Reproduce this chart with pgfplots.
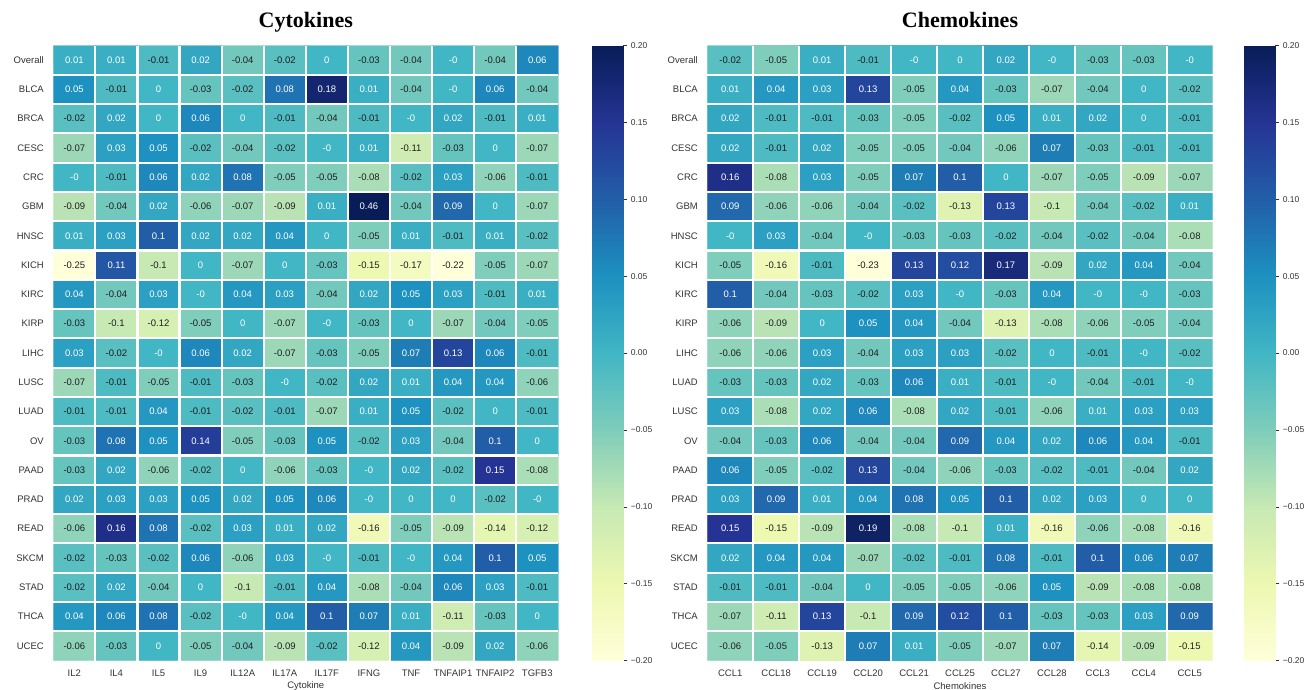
\documentclass[border=0pt]{standalone}
\usepackage{pgfplots}
\usepackage{pgfplotstable}
\pgfplotsset{compat=1.18}
\usepackage{fontspec}
\setmainfont{Liberation Sans}
\newfontfamily\titlefont{Liberation Serif}
\definecolor{txtdark}{HTML}{1E1E1E}
\definecolor{lblgray}{HTML}{333333}

% Cytokines: 21 rows x 12 columns, row by row
\pgfplotstableread[row sep=\\]{
v\\
0.01\\ 0.01\\ -0.01\\ 0.02\\ -0.04\\ -0.02\\ 0\\ -0.03\\ -0.04\\ -0\\ -0.04\\ 0.06\\
0.05\\ -0.01\\ 0\\ -0.03\\ -0.02\\ 0.08\\ 0.18\\ 0.01\\ -0.04\\ -0\\ 0.06\\ -0.04\\
-0.02\\ 0.02\\ 0\\ 0.06\\ 0\\ -0.01\\ -0.04\\ -0.01\\ -0\\ 0.02\\ -0.01\\ 0.01\\
-0.07\\ 0.03\\ 0.05\\ -0.02\\ -0.04\\ -0.02\\ -0\\ 0.01\\ -0.11\\ -0.03\\ 0\\ -0.07\\
-0\\ -0.01\\ 0.06\\ 0.02\\ 0.08\\ -0.05\\ -0.05\\ -0.08\\ -0.02\\ 0.03\\ -0.06\\ -0.01\\
-0.09\\ -0.04\\ 0.02\\ -0.06\\ -0.07\\ -0.09\\ 0.01\\ 0.46\\ -0.04\\ 0.09\\ 0\\ -0.07\\
0.01\\ 0.03\\ 0.1\\ 0.02\\ 0.02\\ 0.04\\ 0\\ -0.05\\ 0.01\\ -0.01\\ 0.01\\ -0.02\\
-0.25\\ 0.11\\ -0.1\\ 0\\ -0.07\\ 0\\ -0.03\\ -0.15\\ -0.17\\ -0.22\\ -0.05\\ -0.07\\
0.04\\ -0.04\\ 0.03\\ -0\\ 0.04\\ 0.03\\ -0.04\\ 0.02\\ 0.05\\ 0.03\\ -0.01\\ 0.01\\
-0.03\\ -0.1\\ -0.12\\ -0.05\\ 0\\ -0.07\\ -0\\ -0.03\\ 0\\ -0.07\\ -0.04\\ -0.05\\
0.03\\ -0.02\\ -0\\ 0.06\\ 0.02\\ -0.07\\ -0.03\\ -0.05\\ 0.07\\ 0.13\\ 0.06\\ -0.01\\
-0.07\\ -0.01\\ -0.05\\ -0.01\\ -0.03\\ -0\\ -0.02\\ 0.02\\ 0.01\\ 0.04\\ 0.04\\ -0.06\\
-0.01\\ -0.01\\ 0.04\\ -0.01\\ -0.02\\ -0.01\\ -0.07\\ 0.01\\ 0.05\\ -0.02\\ 0\\ -0.01\\
-0.03\\ 0.08\\ 0.05\\ 0.14\\ -0.05\\ -0.03\\ 0.05\\ -0.02\\ 0.03\\ -0.04\\ 0.1\\ 0\\
-0.03\\ 0.02\\ -0.06\\ -0.02\\ 0\\ -0.06\\ -0.03\\ -0\\ 0.02\\ -0.02\\ 0.15\\ -0.08\\
0.02\\ 0.03\\ 0.03\\ 0.05\\ 0.02\\ 0.05\\ 0.06\\ -0\\ 0\\ 0\\ -0.02\\ -0\\
-0.06\\ 0.16\\ 0.08\\ -0.02\\ 0.03\\ 0.01\\ 0.02\\ -0.16\\ -0.05\\ -0.09\\ -0.14\\ -0.12\\
-0.02\\ -0.03\\ -0.02\\ 0.06\\ -0.06\\ 0.03\\ -0\\ -0.01\\ -0\\ 0.04\\ 0.1\\ 0.05\\
-0.02\\ 0.02\\ -0.04\\ 0\\ -0.1\\ -0.01\\ 0.04\\ -0.08\\ -0.04\\ 0.06\\ 0.03\\ -0.01\\
0.04\\ 0.06\\ 0.08\\ -0.02\\ -0\\ 0.04\\ 0.1\\ 0.07\\ 0.01\\ -0.11\\ -0.03\\ 0\\
-0.06\\ -0.03\\ 0\\ -0.05\\ -0.04\\ -0.09\\ -0.02\\ -0.12\\ 0.04\\ -0.09\\ 0.02\\ -0.06\\
}\cyto

% Chemokines: 21 rows x 11 columns, row by row
\pgfplotstableread[row sep=\\]{
v\\
-0.02\\ -0.05\\ 0.01\\ -0.01\\ -0\\ 0\\ 0.02\\ -0\\ -0.03\\ -0.03\\ -0\\
0.01\\ 0.04\\ 0.03\\ 0.13\\ -0.05\\ 0.04\\ -0.03\\ -0.07\\ -0.04\\ 0\\ -0.02\\
0.02\\ -0.01\\ -0.01\\ -0.03\\ -0.05\\ -0.02\\ 0.05\\ 0.01\\ 0.02\\ 0\\ -0.01\\
0.02\\ -0.01\\ 0.02\\ -0.05\\ -0.05\\ -0.04\\ -0.06\\ 0.07\\ -0.03\\ -0.01\\ -0.01\\
0.16\\ -0.08\\ 0.03\\ -0.05\\ 0.07\\ 0.1\\ 0\\ -0.07\\ -0.05\\ -0.09\\ -0.07\\
0.09\\ -0.06\\ -0.06\\ -0.04\\ -0.02\\ -0.13\\ 0.13\\ -0.1\\ -0.04\\ -0.02\\ 0.01\\
-0\\ 0.03\\ -0.04\\ -0\\ -0.03\\ -0.03\\ -0.02\\ -0.04\\ -0.02\\ -0.04\\ -0.08\\
-0.05\\ -0.16\\ -0.01\\ -0.23\\ 0.13\\ 0.12\\ 0.17\\ -0.09\\ 0.02\\ 0.04\\ -0.04\\
0.1\\ -0.04\\ -0.03\\ -0.02\\ 0.03\\ -0\\ -0.03\\ 0.04\\ -0\\ -0\\ -0.03\\
-0.06\\ -0.09\\ 0\\ 0.05\\ 0.04\\ -0.04\\ -0.13\\ -0.08\\ -0.06\\ -0.05\\ -0.04\\
-0.06\\ -0.06\\ 0.03\\ -0.04\\ 0.03\\ 0.03\\ -0.02\\ 0\\ -0.01\\ -0\\ -0.02\\
-0.03\\ -0.03\\ 0.02\\ -0.03\\ 0.06\\ 0.01\\ -0.01\\ -0\\ -0.04\\ -0.01\\ -0\\
0.03\\ -0.08\\ 0.02\\ 0.06\\ -0.08\\ 0.02\\ -0.01\\ -0.06\\ 0.01\\ 0.03\\ 0.03\\
-0.04\\ -0.03\\ 0.06\\ -0.04\\ -0.04\\ 0.09\\ 0.04\\ 0.02\\ 0.06\\ 0.04\\ -0.01\\
0.06\\ -0.05\\ -0.02\\ 0.13\\ -0.04\\ -0.06\\ -0.03\\ -0.02\\ -0.01\\ -0.04\\ 0.02\\
0.03\\ 0.09\\ 0.01\\ 0.04\\ 0.08\\ 0.05\\ 0.1\\ 0.02\\ 0.03\\ 0\\ 0\\
0.15\\ -0.15\\ -0.09\\ 0.19\\ -0.08\\ -0.1\\ 0.01\\ -0.16\\ -0.06\\ -0.08\\ -0.16\\
0.02\\ 0.04\\ 0.04\\ -0.07\\ -0.02\\ -0.01\\ 0.08\\ -0.01\\ 0.1\\ 0.06\\ 0.07\\
-0.01\\ -0.01\\ -0.04\\ 0\\ -0.05\\ -0.05\\ -0.06\\ 0.05\\ -0.09\\ -0.08\\ -0.08\\
-0.07\\ -0.11\\ 0.13\\ -0.1\\ 0.09\\ 0.12\\ 0.1\\ -0.03\\ -0.03\\ 0.03\\ 0.09\\
-0.06\\ -0.05\\ -0.13\\ 0.07\\ 0.01\\ -0.05\\ -0.07\\ 0.07\\ -0.14\\ -0.09\\ -0.15\\
}\chemo

% integer cell positions from the row index (column count #1)
\newcommand\addpos[2]{%
  \pgfplotstablecreatecol[create col/assign/.code={%
    \edef\ry{\the\numexpr(2*\pgfplotstablerow-#1+1)/(2*#1)\relax}%
    \pgfkeyslet{/pgfplots/table/create col/next content}\ry}]{cy}{#2}%
  \pgfplotstablecreatecol[create col/assign/.code={%
    \edef\ry{\the\numexpr(2*\pgfplotstablerow-#1+1)/(2*#1)\relax}%
    \edef\rx{\the\numexpr\pgfplotstablerow-#1*\ry\relax}%
    \pgfkeyslet{/pgfplots/table/create col/next content}\rx}]{cx}{#2}%
}
\addpos{12}{\cyto}
\addpos{11}{\chemo}

% text colour: dark for labels "-0.xx", white otherwise
\def\lblcolor#1#2#3#4\relax{\ifx-#1\ifx.#3\color{txtdark}\else\color{white}\fi\else\color{white}\fi}
\newcommand\celllabel{\edef\lab{\pgfplotspointmeta}\expandafter\lblcolor\lab xxx\relax\lab}

\pgfplotsset{
  colormap={ylgnbu}{rgb255=(255,255,217) rgb255=(237,248,177) rgb255=(199,233,180)
    rgb255=(127,205,187) rgb255=(65,182,196) rgb255=(29,145,192) rgb255=(34,94,168)
    rgb255=(37,52,148) rgb255=(8,29,88)},
  hm/.style={
    scale only axis, height=615pt,
    anchor=south west,
    colormap name=ylgnbu,
    point meta min=-0.2, point meta max=0.2,
    ymin=-0.5, ymax=20.5, y dir=reverse,
    ytick={0,...,20},
    axis line style={draw=none},
    major tick length=0pt, minor tick length=0pt,
    minor ytick={0.5,1.5,...,19.5},
    xminorgrids, yminorgrids,
    minor grid style={white, line width=2.2pt},
    axis on top,
    tick label style={font=\fontsize{9.5}{11}\selectfont, text=lblgray},
    xticklabel style={yshift=-6pt},
    yticklabel style={xshift=-6pt},
    title style={font=\titlefont\bfseries\fontsize{22}{26}\selectfont,
      at={(axis description cs:0.5,1)}, anchor=base, yshift=12.5pt},
    xlabel style={font=\fontsize{9.5}{11}\selectfont, text=lblgray,
      at={(axis description cs:0.5,0)}, anchor=center, yshift=-25.5pt},
  },
  cbar/.style={
    scale only axis, anchor=south west, width=31.5pt, height=615pt,
    colormap name=ylgnbu,
    point meta min=-0.2, point meta max=0.2,
    xmin=0, xmax=1, ymin=-0.2, ymax=0.2, enlargelimits=false,
    axis line style={draw=none},
    xtick=\empty,
    ytick={-0.2,-0.15,-0.1,-0.05,0,0.05,0.1,0.15,0.2},
    yticklabels={−0.20,−0.15,−0.10,−0.05,0.00,0.05,0.10,0.15,0.20},
    yticklabel style={font=\fontsize{8.5}{10}\selectfont, text=lblgray},
    yticklabel pos=right, ytick pos=right,
    major tick length=4pt, tick align=outside,
    tick style={lblgray, line width=0.5pt},
  },
  lbl/.style={
    only marks, mark=none,
    point meta=explicit symbolic,
    nodes near coords={\celllabel},
    nodes near coords align=center,
    every node near coord/.append style={font=\fontsize{9.5}{11}\selectfont, inner sep=0pt, anchor=center},
  },
}

\begin{document}
\begin{tikzpicture}
\useasboundingbox (0,0) rectangle (1310pt,689pt);

\begin{axis}[hm,
  at={(53.3pt,28.5pt)}, width=505pt,
  xmin=-0.5, xmax=11.5,
  xtick={0,...,11},
  minor xtick={0.5,1.5,...,10.5},
  xticklabels={IL2,IL4,IL5,IL9,IL12A,IL17A,IL17F,IFNG,TNF,TNFAIP1,TNFAIP2,TGFB3},
  yticklabels={Overall,BLCA,BRCA,CESC,CRC,GBM,HNSC,KICH,KIRC,KIRP,LIHC,LUSC,LUAD,OV,PAAD,PRAD,READ,SKCM,STAD,THCA,UCEC},
  title={Cytokines}, xlabel={Cytokine},
]
\addplot[matrix plot*, mesh/cols=12, mesh/rows=21, point meta=explicit]
  table[x=cx, y=cy, meta=v] {\cyto};
\addplot[lbl]
  table[x=cx, y=cy, meta=v] {\cyto};
\end{axis}

\begin{axis}[cbar, at={(591.8pt,28.5pt)}]
\addplot[surf, shader=interp, mesh/rows=2, point meta=y]
  coordinates {(0,-0.2) (1,-0.2) (0,0.2) (1,0.2)};
\end{axis}

\begin{axis}[hm,
  at={(707.3pt,28.5pt)}, width=505.4pt,
  xmin=-0.5, xmax=10.5,
  xtick={0,...,10},
  minor xtick={0.5,1.5,...,9.5},
  xticklabels={CCL1,CCL18,CCL19,CCL20,CCL21,CCL25,CCL27,CCL28,CCL3,CCL4,CCL5},
  yticklabels={Overall,BLCA,BRCA,CESC,CRC,GBM,HNSC,KICH,KIRC,KIRP,LIHC,LUAD,LUSC,OV,PAAD,PRAD,READ,SKCM,STAD,THCA,UCEC},
  title={Chemokines}, xlabel={Chemokines},
]
\addplot[matrix plot*, mesh/cols=11, mesh/rows=21, point meta=explicit]
  table[x=cx, y=cy, meta=v] {\chemo};
\addplot[lbl]
  table[x=cx, y=cy, meta=v] {\chemo};
\end{axis}

\begin{axis}[cbar, at={(1243.8pt,28.5pt)}]
\addplot[surf, shader=interp, mesh/rows=2, point meta=y]
  coordinates {(0,-0.2) (1,-0.2) (0,0.2) (1,0.2)};
\end{axis}
\end{tikzpicture}
\end{document}
